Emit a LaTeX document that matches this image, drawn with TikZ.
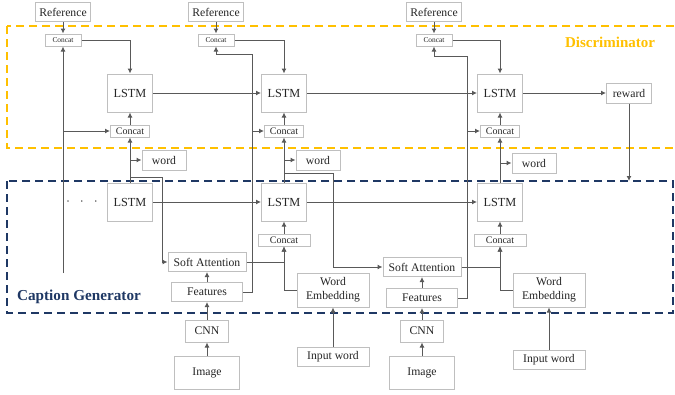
\documentclass[tikz,border=0pt]{standalone}
\usepackage{fontspec}
\setmainfont{Liberation Serif}
\usetikzlibrary{arrows.meta,positioning}
\definecolor{discgold}{HTML}{FFC000}
\definecolor{gennavy}{HTML}{1F3864}
\definecolor{wiregray}{HTML}{595959}
\definecolor{edgegray}{HTML}{BFBFBF}

\begin{document}
\begin{tikzpicture}[
  x=1pt,y=-1pt,
  box/.style={draw=edgegray,line width=1pt,fill=white,inner sep=0pt,
    text=black!85,font=\fontsize{11.7}{14}\selectfont},
  lstm/.style={box,minimum width=45pt,minimum height=38pt,
    font=\fontsize{12.3}{14}\selectfont},
  tinycat/.style={box,minimum width=36pt,minimum height=12pt,
    font=\fontsize{7.4}{8}\selectfont},
  cat/.style={box,minimum width=39pt,minimum height=12pt,
    font=\fontsize{10}{11}\selectfont},
  arr/.style={draw=wiregray,line width=1pt,-{Latex[length=5pt,width=5pt]}},
  region/.style={line width=2pt,dash pattern=on 8pt off 5pt},
  heading/.style={font=\bfseries\fontsize{15}{17}\selectfont}
]
  \useasboundingbox (0,0) rectangle (675,394);
  \draw[region,discgold] (7,26) rectangle (680,148);
  \draw[region,gennavy] (7,181) rectangle (673,313);
  \node[heading,text=discgold] (disclabel) at (610,42) {Discriminator};
  \node[heading,text=gennavy,font=\bfseries\fontsize{15.2}{17}\selectfont]
    (genlabel) at (79,297) {Caption Generator};

  \foreach \i/\r/\l/\wy in {1/63/130/160,2/216/284/160,3/434/500/163}
  {
    \node[box,minimum width=55pt,minimum height=19pt] (ref\i) at (\r,12) {Reference};
    \node[tinycat] (ctop\i) at (\r,40) {Concat};
    \node[lstm] (dlstm\i) at (\l,93) {LSTM};
    \node[cat] (cbot\i) at (\l,131) {Concat};
    \node[box,minimum width=44pt,minimum height=20pt] (word\i) at (\l+34,\wy) {word};
    \node[lstm] (glstm\i) at (\l,202) {LSTM};
  }
  \node[box,minimum width=45pt,minimum height=20pt] (reward) at (629,93) {reward};
  \node[font=\fontsize{12}{14}\selectfont,text=black!85] (dots) at (82,203)
    {·\hspace{10pt}·\hspace{10pt}·};
  \node[cat,minimum width=52pt] (gcat2) at (284,240) {Concat};
  \node[cat,minimum width=52pt] (gcat3) at (500,240) {Concat};

  \foreach \i/\x/\ay/\fy/\e/\iy in {1/207/262/292/333/357,2/422/267/298/549/360}
  {
    \node[box,minimum width=78pt,minimum height=19pt] (att\i) at (\x,\ay) {Soft Attention};
    \node[box,minimum width=71pt,minimum height=19pt] (feat\i) at (\x,\fy) {Features};
    \node[box,minimum width=43pt,minimum height=22pt] (cnn\i) at (\x,331) {CNN};
    \node[box,minimum width=65pt,minimum height=33pt] (img\i) at (\x,373) {Image};
    \node[box,minimum width=72pt,minimum height=34pt,align=center] (emb\i) at (\e,290)
      {Word\\Embedding};
    \node[box,minimum width=72pt,minimum height=19pt] (inw\i) at (\e,\iy) {Input word};
  }

  \foreach \i in {1,2,3}
  {
    \draw[arr] (ref\i) -- (ctop\i);
    \draw[arr] (ctop\i.east) -| (dlstm\i.north);
    \draw[arr] (cbot\i) -- (dlstm\i);
    \draw[arr] (glstm\i) -- (cbot\i);
    \draw[arr] (glstm\i.north |- word\i.west) -- (word\i.west);
  }
  \draw[arr] (dlstm1) -- (dlstm2);
  \draw[arr] (dlstm2) -- (dlstm3);
  \draw[arr] (dlstm3) -- (reward);
  \draw[arr] (glstm1) -- (glstm2);
  \draw[arr] (glstm2) -- (glstm3);
  \coordinate (rewardend) at (629,181);
  \draw[arr] (reward) -- (rewardend);

  \coordinate (prevfeat) at (63,273);
  \draw[arr] (prevfeat) -- (ctop1);
  \draw[arr] (prevfeat |- cbot1) -- (cbot1);

  \draw[arr] ([yshift=5pt]glstm1.north) -- ++(32,0) |- (att1.west);
  \draw[arr] ([yshift=9pt]glstm2.north) -- ++(49,0) |- (att2.west);

  \foreach \i/\j/\dy in {1/2/8,2/3/10}
  {
    \coordinate (fturn\i) at ([xshift=9pt]feat\i.east);
    \draw[arr] (feat\i.east) -- (fturn\i) |- ([yshift=-\dy pt]ctop\j.south)
      -- (ctop\j.south);
    \draw[arr] (fturn\i |- cbot\j.west) -- (cbot\j.west);
    \draw[arr] (img\i) -- (cnn\i);
    \draw[arr] (cnn\i) -- (feat\i);
    \draw[arr] (feat\i) -- (att\i);
    \draw[arr] (att\i.east) -| (gcat\j.south);
    \draw[arr] (emb\i.west) -| (gcat\j.south);
    \draw[arr] (inw\i) -- (emb\i);
    \draw[arr] (gcat\j) -- (glstm\j);
  }
\end{tikzpicture}
\end{document}
